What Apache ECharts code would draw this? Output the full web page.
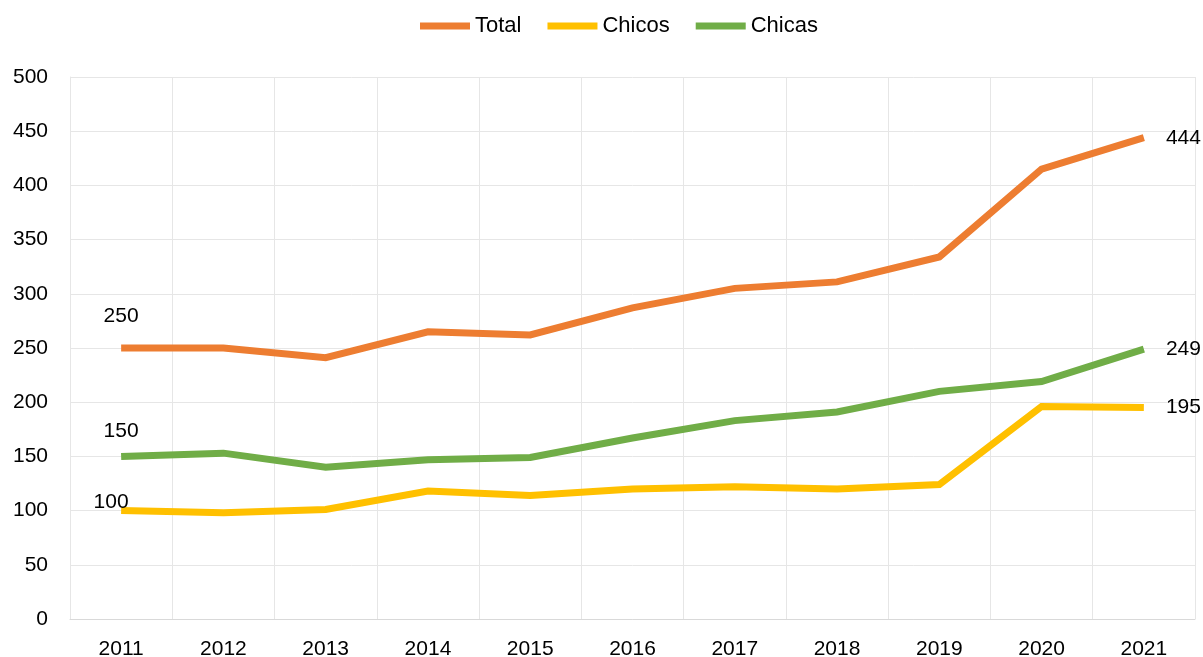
<!DOCTYPE html>
<html>
<head>
<meta charset="utf-8">
<script src="https://cdn.jsdelivr.net/npm/echarts@6/dist/echarts.min.js"></script>
<style>
  html, body { margin: 0; padding: 0; background: #fff; }
  #chart { width: 1203px; height: 657px; }
</style>
</head>
<body>
<div id="chart"></div>
<script>
const years = ["2011", "2012", "2013", "2014", "2015", "2016", "2017", "2018", "2019", "2020", "2021"];
const total = [250, 250, 241, 265, 262, 287, 305, 311, 334, 415, 444];
const chicos = [100, 98, 101, 118, 114, 120, 122, 120, 124, 196, 195];
const chicas = [150, 153, 140, 147, 149, 167, 183, 191, 210, 219, 249];

const chartDom = document.getElementById("chart");
let myChart = echarts.init(chartDom);

const font = "'Liberation Sans', Arial, sans-serif";

// label only first and last point of each line
function withLabels(values, firstOffset) {
  return values.map((v, i) => {
    if (i === 0) {
      return { value: v, label: { show: true, position: "top", offset: firstOffset } };
    }
    if (i === values.length - 1) {
      return { value: v, label: { show: true, position: "right", distance: 22 } };
    }
    return v;
  });
}

function lineSeries(name, color, values, firstOffset) {
  return {
    name: name,
    type: "line",
    symbol: "circle",
    symbolSize: 0.1,
    showSymbol: true,
    lineStyle: { width: 7, color: color, cap: "butt", join: "miter" },
    itemStyle: { color: color },
    label: { show: false, color: "#000", fontSize: 21, fontFamily: font },
    data: withLabels(values, firstOffset)
  };
}

let option = {
  animation: false,
  legend: {
    top: 10,
    left: 415,
    itemWidth: 50,
    itemHeight: 7,
    itemGap: 26,
    icon: "rect",
    textStyle: { fontSize: 22, color: "#000", fontFamily: font },
    data: ["Total", "Chicos", "Chicas"]
  },
  grid: { left: 70, right: 8, top: 77, bottom: 38, outerBoundsMode: "none", containLabel: false },
  xAxis: {
    type: "category",
    data: years,
    boundaryGap: true,
    axisLine: { lineStyle: { color: "#d9d9d9" } },
    axisTick: { show: false },
    splitLine: { show: true, lineStyle: { color: "#e6e6e6" } },
    axisLabel: { color: "#000", fontSize: 21, fontFamily: font, margin: 20 }
  },
  yAxis: {
    type: "value",
    min: 0,
    max: 500,
    interval: 50,
    axisLine: { show: true, lineStyle: { color: "#e6e6e6" } },
    splitLine: { lineStyle: { color: "#e6e6e6" } },
    axisLabel: { color: "#000", fontSize: 21, fontFamily: font, margin: 22 }
  },
  series: [
    lineSeries("Total", "#ED7D31", total, [0, -16]),
    lineSeries("Chicos", "#FFC000", chicos, [-10, 7]),
    lineSeries("Chicas", "#70AD47", chicas, [0, -10])
  ]
};

option && myChart.setOption(option);
</script>
</body>
</html>
